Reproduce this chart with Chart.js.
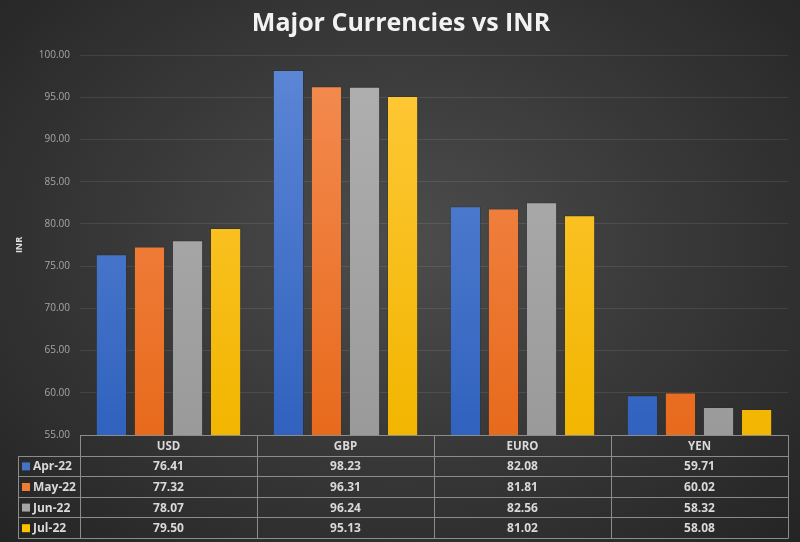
<!DOCTYPE html>
<html lang="en">
<head>
    <meta charset="UTF-8">
    <title>Major Currencies vs INR</title>
    <style>
        html, body {
            margin: 0;
            padding: 0;
        }

        body {
            width: 800px;
            height: 542px;
            overflow: hidden;
            background: radial-gradient(ellipse at 50% 45%, #4d4d4d 0%, #3a3a3a 45%, #242424 100%);
        }

        .chart-container {
            position: relative;
            width: 800px;
            height: 542px;
        }
    </style>
</head>
<body>
    <div class="chart-container">
        <canvas id="currencyChart"></canvas>
    </div>

    <script src="https://cdn.jsdelivr.net/npm/chart.js"></script>
    <script>
        // Chart data
        const currencies = ['USD', 'GBP', 'EURO', 'YEN'];
        const months = ['Apr-22', 'May-22', 'Jun-22', 'Jul-22'];
        const apr22 = [76.41, 98.23, 82.08, 59.71];
        const may22 = [77.32, 96.31, 81.81, 60.02];
        const jun22 = [78.07, 96.24, 82.56, 58.32];
        const jul22 = [79.50, 95.13, 81.02, 58.08];

        // Office-like colours: [top, bottom, legend swatch]
        const palette = [
            ['#5d87d6', '#3062be', '#4472c4'],
            ['#f48c52', '#e86a1c', '#ed7d31'],
            ['#b0b0b0', '#9a9a9a', '#a5a5a5'],
            ['#ffc93a', '#f2b500', '#ffc000']
        ];

        const FONT = "'Open Sans', 'Noto Sans', sans-serif";

        function barGradient(idx) {
            return function (ctx) {
                const area = ctx.chart.chartArea;
                if (!area) return palette[idx][2];
                const g = ctx.chart.ctx.createLinearGradient(0, area.top, 0, area.bottom);
                g.addColorStop(0, palette[idx][0]);
                g.addColorStop(1, palette[idx][1]);
                return g;
            };
        }

        const seriesValues = [apr22, may22, jun22, jul22];
        const datasets = months.map((m, i) => ({
            label: m,
            data: seriesValues[i],
            backgroundColor: barGradient(i),
            borderColor: 'rgba(40,40,40,0.35)',
            borderWidth: 1,
            barPercentage: 0.82,
            categoryPercentage: 0.86
        }));

        // Data table drawn under the plot, aligned with the x scale
        const dataTablePlugin = {
            id: 'dataTable',
            afterDraw(chart) {
                const ctx = chart.ctx;
                const x = chart.scales.x;
                const top = chart.chartArea.bottom;
                const left = x.left;
                const right = x.right;
                const legendLeft = 18;
                const rowH = 20.6;
                const colW = (right - left) / currencies.length;

                ctx.save();
                ctx.strokeStyle = '#8c8c8c';
                ctx.lineWidth = 1;

                // header row outline
                ctx.beginPath();
                ctx.moveTo(left, top + 0.5);
                ctx.lineTo(right, top + 0.5);
                // horizontal lines below header
                for (let r = 1; r <= months.length + 1; r++) {
                    const y = Math.round(top + r * rowH) + 0.5;
                    ctx.moveTo(legendLeft, y);
                    ctx.lineTo(right, y);
                }
                // vertical lines
                const bottom = Math.round(top + (months.length + 1) * rowH) + 0.5;
                for (let c = 0; c <= currencies.length; c++) {
                    const vx = Math.round(left + c * colW) + 0.5;
                    ctx.moveTo(vx, top);
                    ctx.lineTo(vx, bottom);
                }
                ctx.moveTo(legendLeft + 0.5, Math.round(top + rowH) + 0.5);
                ctx.lineTo(legendLeft + 0.5, bottom);
                ctx.stroke();

                ctx.textBaseline = 'middle';
                ctx.fillStyle = '#d9d9d9';

                // header labels
                ctx.font = 'bold 11.5px ' + FONT;
                ctx.textAlign = 'center';
                currencies.forEach((c, i) => {
                    ctx.fillText(c, left + colW * (i + 0.5), top + rowH / 2 + 1);
                });

                // rows
                ctx.font = 'bold 12px ' + FONT;
                months.forEach((m, r) => {
                    const cy = top + rowH * (r + 1.5) + 1;
                    ctx.fillStyle = palette[r][2];
                    ctx.fillRect(legendLeft + 4, cy - 4.5, 8, 8);
                    ctx.fillStyle = '#d9d9d9';
                    ctx.textAlign = 'left';
                    ctx.fillText(m, legendLeft + 15, cy);
                    ctx.textAlign = 'center';
                    seriesValues[r].forEach((v, i) => {
                        ctx.fillText(v.toFixed(2), left + colW * (i + 0.5), cy);
                    });
                });
                ctx.restore();
            }
        };

        const ctx = document.getElementById('currencyChart').getContext('2d');
        new Chart(ctx, {
            type: 'bar',
            data: {
                labels: currencies,
                datasets: datasets
            },
            options: {
                responsive: true,
                maintainAspectRatio: false,
                animation: false,
                layout: {
                    padding: { left: 14, right: 12, top: 0, bottom: 107 }
                },
                plugins: {
                    legend: { display: false },
                    tooltip: { enabled: false },
                    title: {
                        display: true,
                        text: 'Major Currencies vs INR',
                        color: '#f2f2f2',
                        font: { family: FONT, size: 25, weight: 'bold' },
                        padding: { top: 9, bottom: 16 }
                    }
                },
                scales: {
                    x: {
                        display: false
                    },
                    y: {
                        min: 55,
                        max: 100,
                        afterFit(scale) {
                            scale.width = 66;
                        },
                        ticks: {
                            stepSize: 5,
                            color: '#a6a6a6',
                            padding: 10,
                            font: { family: FONT, size: 10 },
                            callback: v => v.toFixed(2)
                        },
                        grid: {
                            color: 'rgba(255,255,255,0.09)',
                            drawTicks: false
                        },
                        border: { display: false },
                        title: {
                            display: true,
                            text: 'INR',
                            color: '#e0e0e0',
                            font: { family: FONT, size: 9, weight: 'bold' },
                            padding: { top: 0, bottom: 4 }
                        }
                    }
                }
            },
            plugins: [dataTablePlugin]
        });
    </script>
</body>
</html>
